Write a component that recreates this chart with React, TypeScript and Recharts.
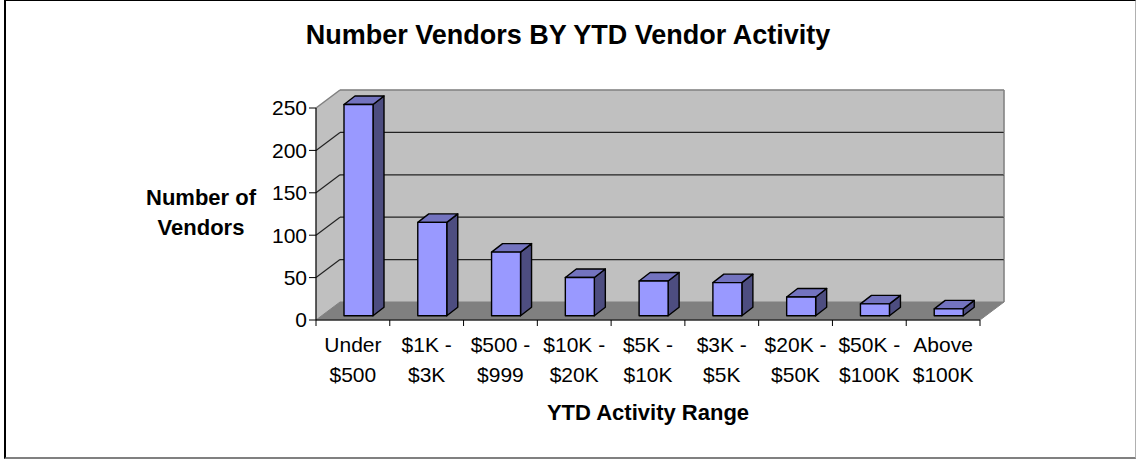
import React from 'react';
import { BarChart, Bar, XAxis, YAxis, ReferenceArea } from 'recharts';

// values
const categories = [
  'Under $500',
  '$1K - $3K',
  '$500 - $999',
  '$10K - $20K',
  '$5K - $10K',
  '$3K - $5K',
  '$20K - $50K',
  '$50K - $100K',
  'Above $100K',
];
const vendorCounts = [249, 110, 75, 45, 41, 39, 22, 14, 8];
const yTicks = [0, 50, 100, 150, 200, 250];

const data = categories.map((range, i) => ({ range, vendors: vendorCounts[i] }));
const wallBands = yTicks.slice(0, -1).map((v, i) => [v, yTicks[i + 1]]);

const W = 1136;
const H = 459;
const PLOT_LEFT = 316;
const PLOT_RIGHT = 980;
const PLOT_TOP = 108;
const PLOT_BOTTOM = 320;
const Y_AXIS_W = 60;
const X_AXIS_H = 60;

// fake 3d: back wall offset, bar offset inside the depth, bar depth
const DEPTH_X = 24;
const DEPTH_Y = -18;
const BAR_DX = 6;
const BAR_DY = -4.3;
const SIDE_X = 11;
const SIDE_Y = -8.5;

const FONT = '"Liberation Sans", Arial, sans-serif';
const WALL = '#c0c0c0';
const FLOOR = '#808080';
const EDGE = '#808080';

const WallBand = (props: any) => {
  const { x, y, width, height, first, last } = props;
  if (x == null || y == null) return null;
  const bottom = y + height;
  const right = x + width;
  return (
    <g>
      <rect x={x + DEPTH_X} y={y + DEPTH_Y} width={width} height={height} fill={WALL} stroke={WALL} strokeWidth={0.5} />
      <polygon
        points={`${x},${y} ${x + DEPTH_X},${y + DEPTH_Y} ${x + DEPTH_X},${bottom + DEPTH_Y} ${x},${bottom}`}
        fill={WALL}
        stroke={WALL}
        strokeWidth={0.5}
      />
      {first && (
        <polygon
          points={`${x},${bottom} ${right},${bottom} ${right + DEPTH_X},${bottom + DEPTH_Y} ${x + DEPTH_X},${bottom + DEPTH_Y}`}
          fill={FLOOR}
          stroke={EDGE}
          strokeWidth={1}
        />
      )}
      {!first && (
        <g stroke="#222" strokeWidth={1.2}>
          <line x1={x + DEPTH_X} y1={bottom + DEPTH_Y} x2={right + DEPTH_X} y2={bottom + DEPTH_Y} />
          <line x1={x} y1={bottom} x2={x + DEPTH_X} y2={bottom + DEPTH_Y} />
        </g>
      )}
      <line x1={right + DEPTH_X} y1={y + DEPTH_Y} x2={right + DEPTH_X} y2={bottom + DEPTH_Y} stroke={EDGE} strokeWidth={1.5} />
      {last && (
        <g stroke={EDGE} strokeWidth={1.5}>
          <line x1={x + DEPTH_X} y1={y + DEPTH_Y} x2={right + DEPTH_X} y2={y + DEPTH_Y} />
          <line x1={x} y1={y} x2={x + DEPTH_X} y2={y + DEPTH_Y} />
        </g>
      )}
    </g>
  );
};

const Column3D = (props: any) => {
  const { x, y, width, height } = props;
  if (x == null || y == null || !height) return null;
  const fx = x + BAR_DX;
  const fy = y + BAR_DY;
  const fr = fx + width;
  const fb = fy + height;
  return (
    <g stroke="#000" strokeWidth={1.4} strokeLinejoin="round">
      <polygon
        points={`${fr},${fy} ${fr + SIDE_X},${fy + SIDE_Y} ${fr + SIDE_X},${fb + SIDE_Y} ${fr},${fb}`}
        fill="#4d4d80"
      />
      <polygon
        points={`${fx},${fy} ${fr},${fy} ${fr + SIDE_X},${fy + SIDE_Y} ${fx + SIDE_X},${fy + SIDE_Y}`}
        fill="#7373bf"
      />
      <rect x={fx} y={fy} width={width} height={height} fill="#9999ff" />
    </g>
  );
};

const RangeTick = (props: any) => {
  const { x, payload, index } = props;
  const label = String(payload.value);
  const cut = label.lastIndexOf(' ');
  const step = (PLOT_RIGHT - PLOT_LEFT) / categories.length;
  return (
    <g>
      <line x1={x - step / 2} y1={PLOT_BOTTOM} x2={x - step / 2} y2={PLOT_BOTTOM + 6} stroke="#000" />
      {index === categories.length - 1 && (
        <line x1={x + step / 2} y1={PLOT_BOTTOM} x2={x + step / 2} y2={PLOT_BOTTOM + 6} stroke="#000" />
      )}
      <text textAnchor="middle" fontSize={21} fontFamily={FONT} fill="#000">
        <tspan x={x} y={PLOT_BOTTOM + 32}>{label.slice(0, cut)}</tspan>
        <tspan x={x} y={PLOT_BOTTOM + 62}>{label.slice(cut + 1)}</tspan>
      </text>
    </g>
  );
};

export default function App() {
  return (
    <div style={{ position: 'absolute', left: 0, top: 0, width: W, height: H, background: '#fff' }}>
      <div
        style={{
          position: 'absolute',
          left: 4,
          top: 0,
          width: 1129,
          height: 456,
          borderLeft: '2px solid #000',
          borderTop: '1px solid #000',
          borderRight: '1px solid #b0b0b0',
          borderBottom: '2px solid #808080',
        }}
      />
      <BarChart
        width={W}
        height={H}
        data={data}
        margin={{
          top: PLOT_TOP,
          right: W - PLOT_RIGHT,
          bottom: H - PLOT_BOTTOM - X_AXIS_H,
          left: PLOT_LEFT - Y_AXIS_W,
        }}
        style={{ position: 'absolute', left: 0, top: 0 }}
      >
        {wallBands.map(([lo, hi], i) => (
          <ReferenceArea
            key={lo}
            y1={lo}
            y2={hi}
            ifOverflow="visible"
            shape={(p: any) => <WallBand {...p} first={i === 0} last={i === wallBands.length - 1} />}
          />
        ))}
        <XAxis
          dataKey="range"
          height={X_AXIS_H}
          interval={0}
          tickLine={false}
          axisLine={{ stroke: '#000', strokeWidth: 1.2 }}
          tick={<RangeTick />}
        />
        <YAxis
          width={Y_AXIS_W}
          domain={[0, 250]}
          ticks={yTicks}
          tickSize={7}
          tickLine={{ stroke: '#000' }}
          axisLine={{ stroke: '#000', strokeWidth: 1.2 }}
          tick={{ fill: '#000', fontSize: 21, fontFamily: FONT }}
        />
        <Bar dataKey="vendors" barSize={29} shape={<Column3D />} isAnimationActive={false} />
      </BarChart>
      <svg width={W} height={H} style={{ position: 'absolute', left: 0, top: 0, pointerEvents: 'none' }}>
        <text x={568} y={44} textAnchor="middle" fontSize={27} fontWeight="bold" fontFamily={FONT}>
          Number Vendors BY YTD Vendor Activity
        </text>
        <text textAnchor="middle" fontSize={22} fontWeight="bold" fontFamily={FONT}>
          <tspan x={201} y={205}>Number of</tspan>
          <tspan x={201} y={235}>Vendors</tspan>
        </text>
        <text x={648} y={420} textAnchor="middle" fontSize={22} fontWeight="bold" fontFamily={FONT}>
          YTD Activity Range
        </text>
      </svg>
    </div>
  );
}
